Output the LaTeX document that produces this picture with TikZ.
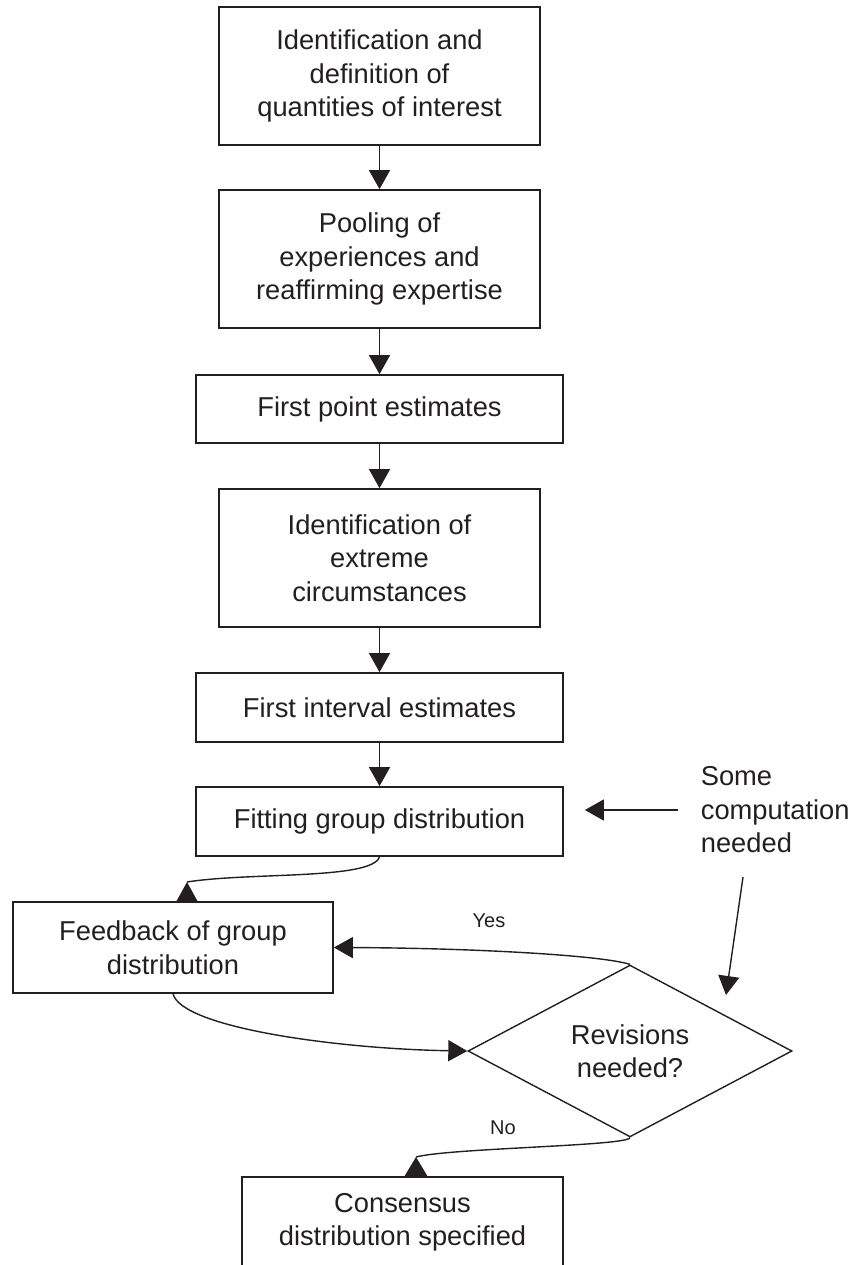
\documentclass[tikz,border=0pt]{standalone}
\usepackage{fontspec}
\setmainfont{Liberation Sans}
\usetikzlibrary{arrows.meta,shapes.geometric}
\definecolor{ink}{HTML}{231F20}
\tikzset{
  box/.style={draw=ink, text=ink, line width=1.7pt, align=center, inner sep=0pt,
    font=\fontsize{27.3}{33.5}\selectfont},
  arr/.style={draw=ink, line width=1.4pt, -{Triangle[length=19pt,width=21pt]}},
  lbl/.style={text=ink, font=\fontsize{20}{24}\selectfont}
}
\begin{document}
\begin{tikzpicture}[x=1pt,y=-1pt]
			\useasboundingbox (0,0) rectangle (850,1265);
			\node[box, minimum width=321, minimum height=138] (idq) at (379.5,76) {Identification and\\definition of\\quantities of interest};
			\node[box, minimum width=321, minimum height=138] (pool) at (379.5,259) {Pooling of\\experiences and\\reaffirming expertise};
			\node[box, minimum width=367, minimum height=68] (fpe) at (379.5,409) {First point estimates};
			\node[box, minimum width=321, minimum height=138] (ext) at (379.5,558) {Identification of\\extreme\\circumstances};
			\node[box, minimum width=367, minimum height=69] (fie) at (379.5,707.5) {First interval estimates};
			\node[box, minimum width=367, minimum height=69] (fit) at (379.5,821.5) {Fitting group distribution};
			\node[box, minimum width=320, minimum height=91] (feed) at (173,947.5) {Feedback of group\\distribution};
			\node[box, diamond, line width=1.4pt, minimum width=324, minimum height=160] (rev) at (630,1051) {Revisions\\needed?};
			\node[box, minimum width=321, minimum height=91] (cons) at (402.5,1222.5) {Consensus\\distribution specified};
			\node[box, draw=none, align=left, anchor=west] (comp) at (700,810) {Some\\computation\\needed};
			\node[lbl] (yes) at (489,921) {Yes};
			\node[lbl] (no) at (503,1128) {No};
			\coordinate (feedin) at (187,882);
			\coordinate (consin) at (416,1157);
			\coordinate (cmpout) at (743,877);
			\coordinate (revin) at (726,995);
			\draw[arr] (idq) -- (pool);
			\draw[arr] (pool) -- (fpe);
			\draw[arr] (fpe) -- (ext);
			\draw[arr] (ext) -- (fie);
			\draw[arr] (fie) -- (fit);
			\draw[ink, line width=1.4pt] (fit.south) .. controls (372,880) and (250,872) .. (feedin);
			\fill[ink] (feedin) -- ++(-11,20) -- ++(22,0) -- cycle;
			\draw[arr] (feed.south) .. controls (182,1028) and (340,1049) .. (rev.west);
			\draw[arr] (rev.north) .. controls (600,955) and (470,948) .. (feed.east);
			\draw[ink, line width=1.4pt] (rev.south) .. controls (628,1146) and (450,1148) .. (consin);
			\fill[ink] (consin) -- ++(-12,20) -- ++(24,0) -- cycle;
			\draw[arr] ([xshift=-22pt]comp.west) -- ([xshift=21pt]fit.east |- comp.west);
			\draw[arr] (cmpout) -- (revin);
\end{tikzpicture}
\end{document}
